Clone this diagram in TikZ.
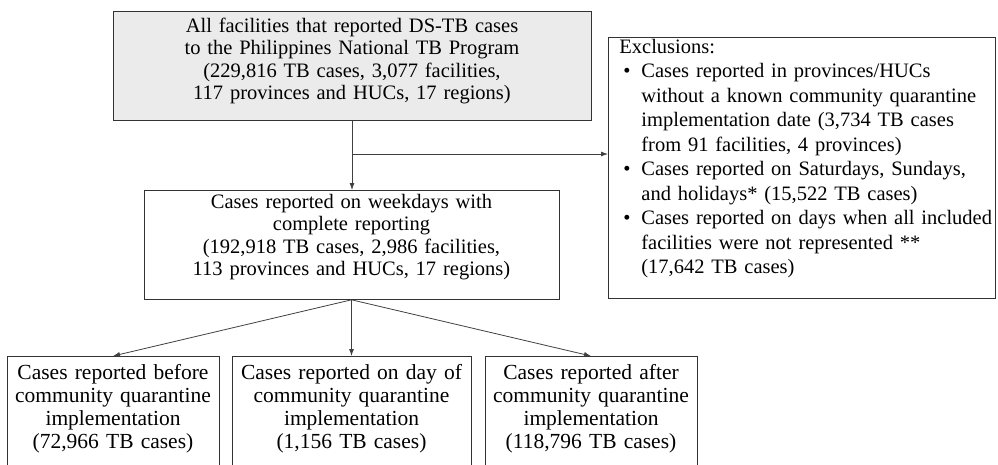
\documentclass[tikz,border=0pt]{standalone}
\usepackage{fontspec}
\setmainfont{Liberation Serif}
\usepackage{tikz}
\usetikzlibrary{calc, arrows.meta}

\definecolor{boxgray}{RGB}{235,235,235}
\newcommand{\exbullet}{\makebox[22pt][l]{\hspace{4pt}\textbullet}}
\newcommand{\exindent}{\hspace*{22pt}}

\begin{document}
\begin{tikzpicture}[>={Latex[length=7pt,width=5pt]}, x=1pt, y=-1pt,
    box/.style={draw=black!80, line width=0.8pt, inner xsep=0pt, inner ysep=0pt, align=center,
      font=\fontsize{20.5}{22.5}\selectfont},
    lowbox/.style={box, anchor=north, text width=#1, text height=23pt, text depth=91pt,
      font=\fontsize{21.5}{23}\selectfont},
    link/.style={->, draw=black!75, line width=0.8pt}]
  \useasboundingbox (0,0) rectangle (998,464);
  \node at (352,11) [box, anchor=north, fill=boxgray, text width=478pt, text height=21pt, text depth=88pt] (all)
    {All facilities that reported DS-TB cases\\ to the Philippines National TB Program\\
     (229,816 TB cases, 3,077 facilities,\\ 117 provinces and HUCs, 17 regions)};
  \node at (351.5,190) [box, anchor=north, text width=415pt, text height=18pt, text depth=91pt] (weekday)
    {Cases reported on weekdays with\\ complete reporting\\
     (192,918 TB cases, 2,986 facilities,\\ 113 provinces and HUCs, 17 regions)};
  \node at (608,37) [box, anchor=north west, align=left, inner xsep=11pt, text width=365pt, text height=16pt, text depth=245pt,
      font={\fontsize{20.5}{24.5}\selectfont\setlength{\normalbaselineskip}{24.5pt}}] (excl)
    {Exclusions:\\
     \exbullet\mbox{Cases reported in provinces/HUCs}\\
     \exindent\mbox{without a known community quarantine}\\
     \exindent\mbox{implementation date (3,734 TB cases}\\
     \exindent\mbox{from 91 facilities, 4 provinces)}\\
     \exbullet\mbox{Cases reported on Saturdays, Sundays,}\\
     \exindent\mbox{and holidays* (15,522 TB cases)}\\
     \exbullet\mbox{Cases reported on days when all included}\\
     \exindent\mbox{facilities were not represented **}\\
     \exindent\mbox{(17,642 TB cases)}};
  \node at (113,356) [lowbox=212pt] (before)
    {Cases reported before\\ community quarantine\\ implementation\\ (72,966 TB cases)};
  \node at (351.5,356) [lowbox=239pt] (onday)
    {Cases reported on day of\\ community quarantine\\ implementation\\ (1,156 TB cases)};
  \node at (591,356) [lowbox=212pt] (after)
    {Cases reported after\\ community quarantine\\ implementation\\ (118,796 TB cases)};
  \coordinate (split) at (352,154);
  \draw [link] (all.south) -- (all.south |- weekday.north);
  \draw [link] (split) -- (split -| excl.west);
  \draw [link] (weekday.south) -- (before.north);
  \draw [link] (weekday.south) -- (onday.north);
  \draw [link] (weekday.south) -- (after.north);
\end{tikzpicture}
\end{document}
